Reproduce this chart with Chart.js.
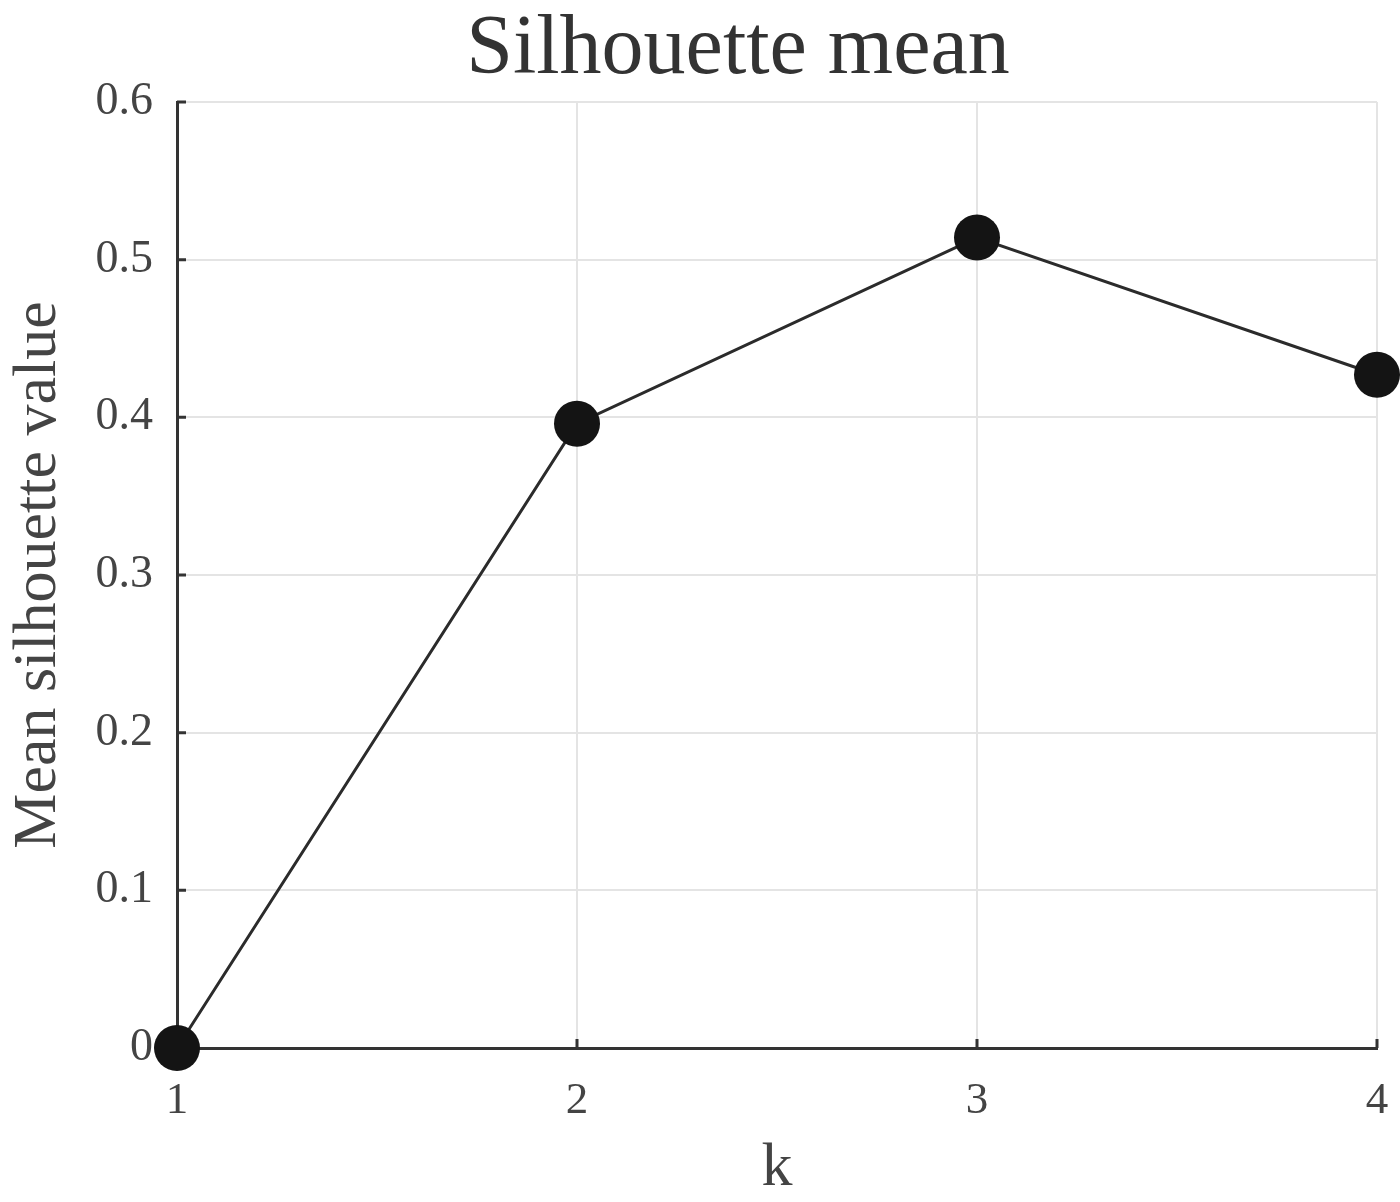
<!DOCTYPE html>
<html>
<head>
<meta charset="utf-8">
<script src="https://cdn.jsdelivr.net/npm/chart.js@4/dist/chart.umd.min.js"></script>
<style>
  html, body { margin: 0; padding: 0; background: #fff; }
  #wrap { width: 1400px; height: 1202px; }
</style>
</head>
<body>
<div id="wrap"><canvas id="silhouetteChart"></canvas></div>
<script>
// number of clusters and the mean silhouette value for each
const kValues = [1, 2, 3, 4];
const silhouetteMean = [0, 0.396, 0.514, 0.427];

const xTicks = [1, 2, 3, 4];
const yTicks = [0, 0.1, 0.2, 0.3, 0.4, 0.5, 0.6];

const chartTitle = "Silhouette mean";
const serif = "'Liberation Serif', 'Times New Roman', serif";

// small tick marks pointing into the plot, like a matlab axis
const inwardTicks = {
    id: "inwardTicks",
    beforeDatasetsDraw(chart) {
        const ctx = chart.ctx;
        const area = chart.chartArea;
        const x = chart.scales.x;
        const y = chart.scales.y;
        ctx.save();
        ctx.strokeStyle = "#333";
        ctx.lineWidth = 3;
        ctx.beginPath();
        yTicks.forEach(v => {
            const py = y.getPixelForValue(v);
            ctx.moveTo(area.left, py);
            ctx.lineTo(area.left + 9, py);
        });
        xTicks.forEach(v => {
            const px = x.getPixelForValue(v);
            ctx.moveTo(px, area.bottom);
            ctx.lineTo(px, area.bottom - 9);
        });
        ctx.stroke();
        ctx.restore();
    }
};

// title sits a little left of the plot centre
const plotTitle = {
    id: "plotTitle",
    afterDraw(chart) {
        const ctx = chart.ctx;
        const area = chart.chartArea;
        ctx.save();
        ctx.fillStyle = "#333";
        ctx.font = "84px " + serif;
        ctx.textAlign = "center";
        ctx.textBaseline = "alphabetic";
        ctx.fillText(chartTitle, (area.left + area.right) / 2 - 39, 73);
        ctx.restore();
    }
};

// keep the plot box exactly where the layout padding puts it
const noEdgePadding = scale => {
    scale.paddingLeft = 0;
    scale.paddingRight = 0;
    scale.paddingTop = 0;
    scale.paddingBottom = 0;
};

const ctx = document.getElementById("silhouetteChart").getContext("2d");
new Chart(ctx, {
    type: "line",
    data: {
        datasets: [{
            label: "Mean silhouette value",
            data: kValues.map((k, i) => ({ x: k, y: silhouetteMean[i] })),
            borderColor: "#2b2b2b",
            borderWidth: 3,
            pointRadius: 23,
            pointBackgroundColor: "#141414",
            pointBorderColor: "#141414",
            pointBorderWidth: 0,
            clip: false,
            tension: 0
        }]
    },
    options: {
        responsive: true,
        maintainAspectRatio: false,
        animation: false,
        layout: { padding: { left: 0, right: 22, top: 102, bottom: 0 } },
        plugins: {
            legend: { display: false },
            tooltip: { enabled: false },
            title: { display: false }
        },
        scales: {
            x: {
                type: "linear",
                min: 1,
                max: 4,
                afterBuildTicks: scale => { scale.ticks = xTicks.map(v => ({ value: v })); },
                afterFit: scale => { scale.height = 154; noEdgePadding(scale); },
                ticks: {
                    color: "#444",
                    padding: 26,
                    font: { family: serif, size: 45 }
                },
                grid: { color: "#e4e4e4", lineWidth: 2, drawTicks: false },
                border: { display: true, color: "#333", width: 3 },
                title: {
                    display: true,
                    text: "k",
                    color: "#444",
                    font: { family: serif, size: 62, lineHeight: 1 },
                    padding: { top: 0, bottom: 2 }
                }
            },
            y: {
                min: 0,
                max: 0.6,
                afterBuildTicks: scale => { scale.ticks = yTicks.map(v => ({ value: v })); },
                afterFit: scale => { scale.width = 177; noEdgePadding(scale); },
                ticks: {
                    color: "#444",
                    padding: 24,
                    font: { family: serif, size: 46 },
                    callback: v => String(Math.round(v * 10) / 10)
                },
                grid: { color: "#e4e4e4", lineWidth: 2, drawTicks: false },
                border: { display: true, color: "#333", width: 3 },
                title: {
                    display: true,
                    text: "Mean silhouette value",
                    color: "#444",
                    font: { family: serif, size: 62, lineHeight: 1.2 },
                    padding: { top: 2, bottom: 0 }
                }
            }
        }
    },
    plugins: [inwardTicks, plotTitle]
});
</script>
</body>
</html>
